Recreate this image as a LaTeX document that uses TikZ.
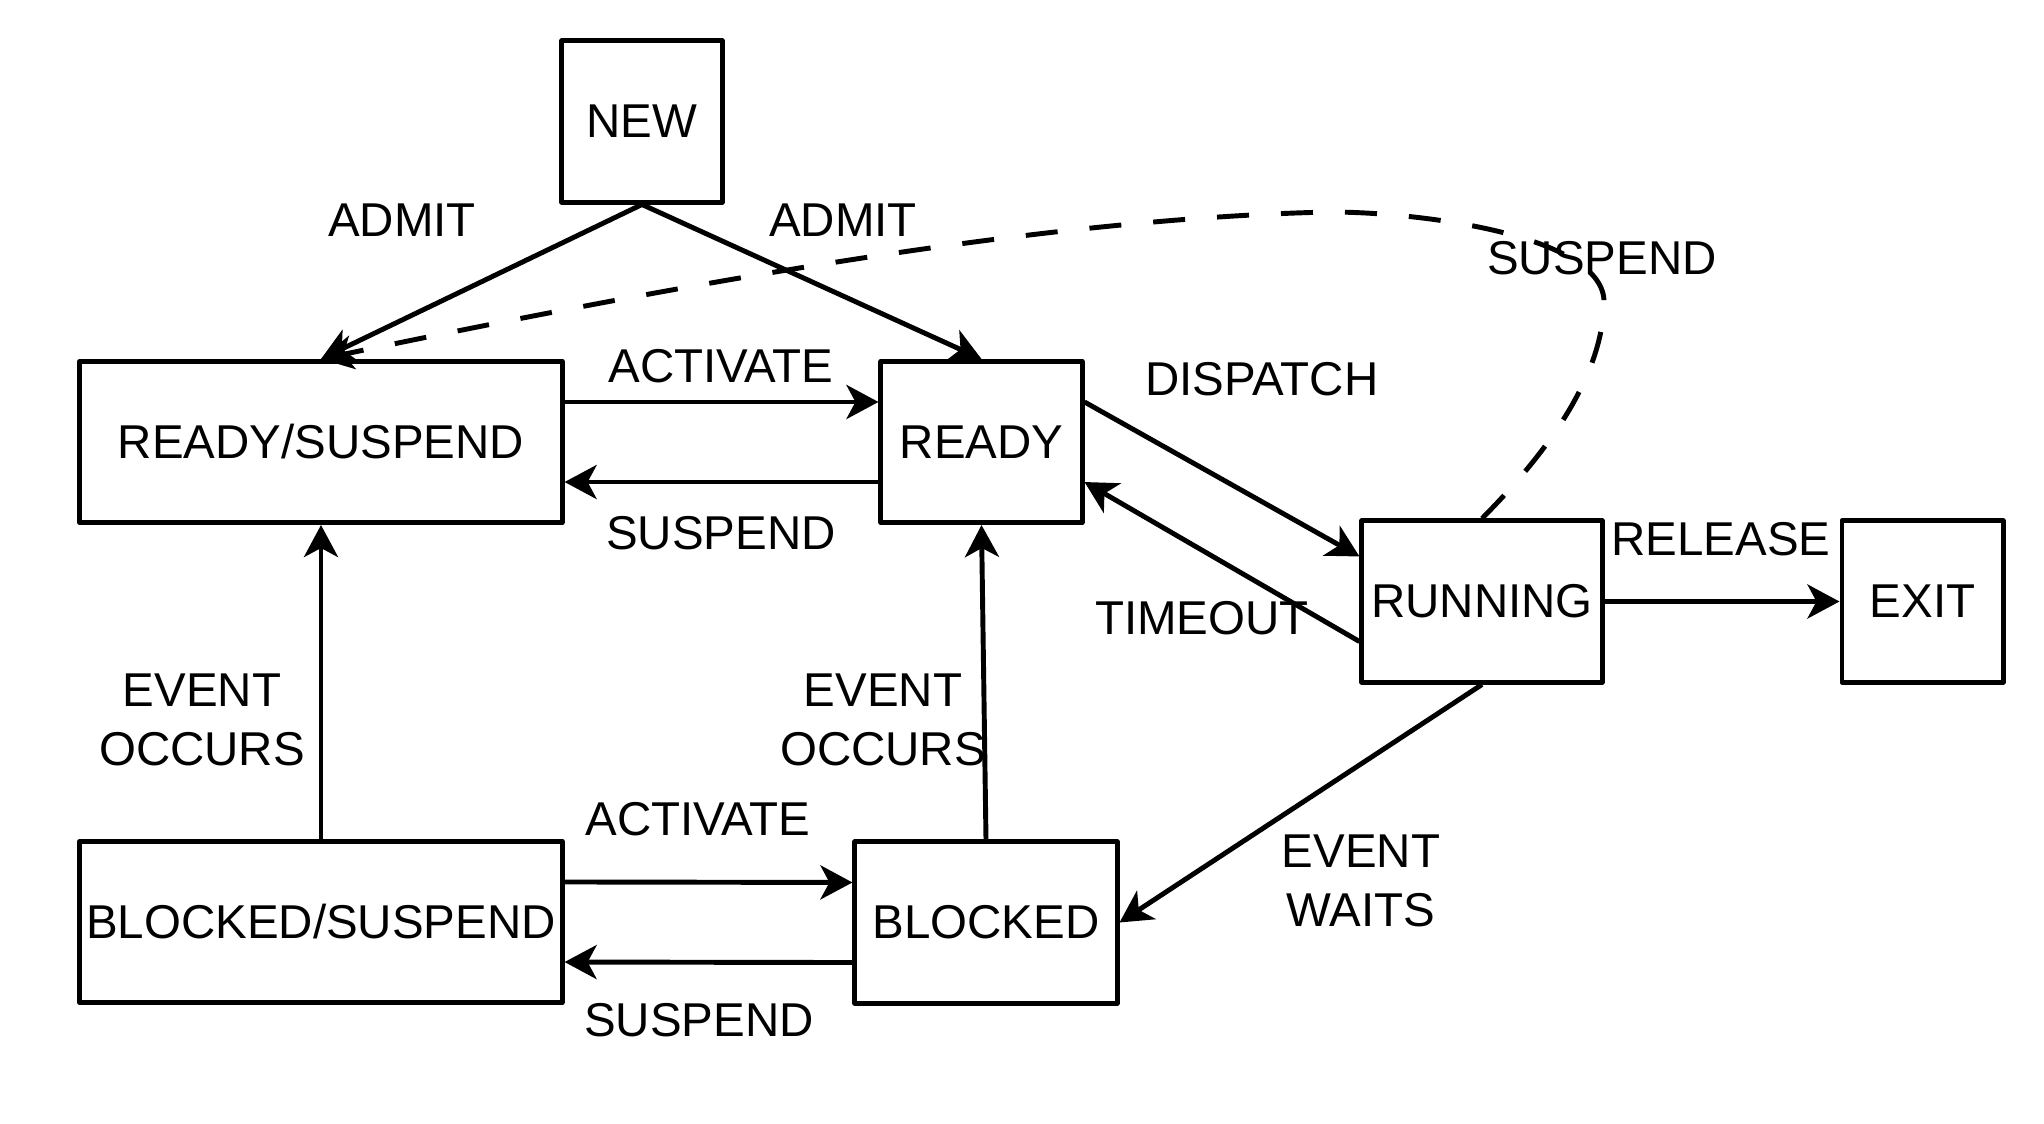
\documentclass[tikz,border=0pt]{standalone}
\usepackage{fontspec}
\setmainfont{Liberation Sans}
\usetikzlibrary{arrows.meta}
\begin{document}
\begin{tikzpicture}[x=0.01cm,y=-0.01cm,>={Stealth[length=3.2mm,width=3.4mm,inset=0.9mm]},line width=1.4pt,font=\fontsize{13.5}{16.8}\selectfont,line join=round,
	box/.style={draw,inner sep=0pt,minimum height=1.61cm},
	lbl/.style={align=center,inner sep=0pt}]
	\useasboundingbox (0,0) rectangle (2044,1124);
	\node[box,minimum width=1.6cm] (new) at (642,121.5) {NEW};
	\node[box,minimum width=4.82cm] (readysusp) at (321,442) {READY/SUSPEND};
	\node[box,minimum width=2.01cm] (ready) at (981.5,442) {READY};
	\node[box,minimum width=2.4cm] (running) at (1482,601.5) {RUNNING};
	\node[box,minimum width=1.61cm] (exit) at (1922.5,601.5) {EXIT};
	\node[box,minimum width=4.82cm] (blockedsusp) at (321,922) {BLOCKED/SUSPEND};
	\node[box,minimum width=2.62cm] (blocked) at (986,922.5) {BLOCKED};
	\draw[->] (new.south)--(readysusp.north);
	\draw[->] (new.south)--(ready.north);
	\draw[->] ([yshift=4mm]readysusp.east)--([yshift=4mm]ready.west);
	\draw[->] ([yshift=-4mm]ready.west)--([yshift=-4mm]readysusp.east);
	\draw[->] ([yshift=4mm]ready.east)--([yshift=4.5mm]running.west);
	\draw[->] ([yshift=-4mm]running.west)--([yshift=-4mm]ready.east);
	\draw[->] (running.east)--(exit.west);
	\draw[->] (running.south)--(blocked.east);
	\draw[->] (blockedsusp.north)--(readysusp.south);
	\draw[->] (blocked.north)--(ready.south);
	\draw[->] ([yshift=4mm]blockedsusp.east)--([yshift=4mm]blocked.west);
	\draw[->] ([yshift=-4mm]blocked.west)--([yshift=-4mm]blockedsusp.east);
	% suspend from running back to ready/suspend
	\draw[->,dash pattern=on 3.2mm off 3.2mm] (running.north) .. controls (1540,460) and (1604,380) .. (1604,300) .. controls (1600,235) and (1420,212) .. (1330,212) .. controls (1050,218) and (700,280) .. (readysusp.north);
	\node[lbl] (admitl) at (402,220) {ADMIT};
	\node[lbl] (admitr) at (843,220) {ADMIT};
	\node[lbl] (act1) at (721,366) {ACTIVATE};
	\node[lbl] (susp1) at (721,533) {SUSPEND};
	\node[lbl] (disp) at (1262,379) {DISPATCH};
	\node[lbl] (susp2) at (1602,258) {SUSPEND};
	\node[lbl] (rel) at (1721,539) {RELEASE};
	\node[lbl] (tout) at (1202,618) {TIMEOUT};
	\node[lbl] (ewait) at (1361,880.5) {EVENT\\WAITS};
	\node[lbl] (eocc1) at (202,720) {EVENT\\OCCURS};
	\node[lbl] (eocc2) at (883,720) {EVENT\\OCCURS};
	\node[lbl] (act2) at (698,819) {ACTIVATE};
	\node[lbl] (susp3) at (699,1020) {SUSPEND};
\end{tikzpicture}
\end{document}
